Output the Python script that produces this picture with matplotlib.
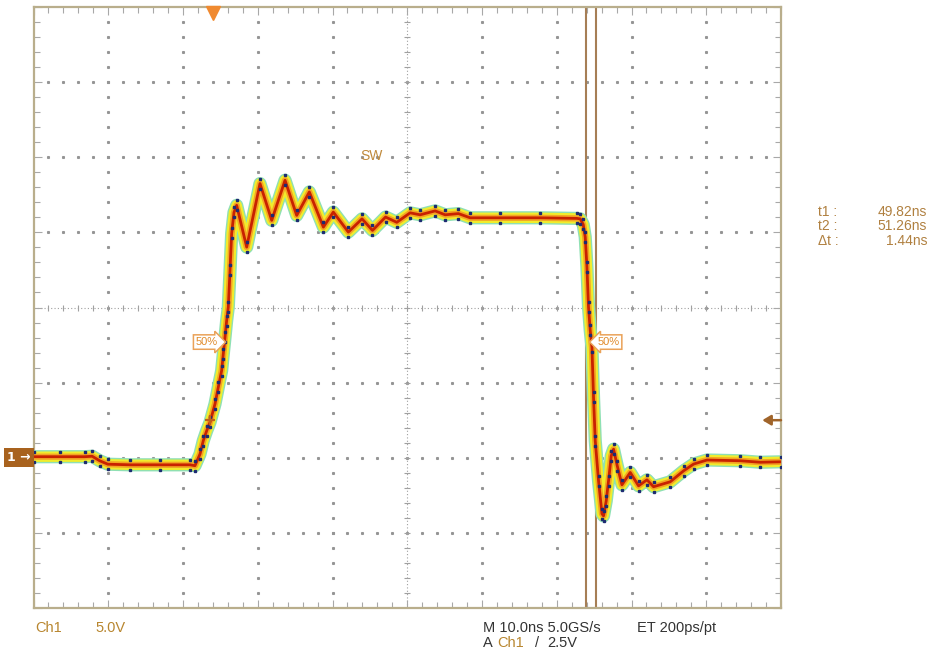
import matplotlib.pyplot as plt
import matplotlib.transforms as mtransforms
import numpy as np

# switch-node waveform: time in ns (0 = trigger), volts
t_ns = [-24.0, -20.5, -17.2, -16.2, -15.2, -14.1, -11.1, -7.1, -3.1, -2.45,
        -1.78, -1.34, -0.88, -0.44, 0.23, 0.67, 1.12, 1.34, 1.57, 1.79,
        2.01, 2.24, 2.46, 2.77, 3.13, 4.47, 6.25, 7.82, 9.6, 11.16,
        12.85, 14.73, 16.06, 18.07, 19.9, 21.3, 23.05, 24.55, 26.33, 27.67,
        29.68, 31.02, 32.8, 34.36, 38.38, 43.73, 48.65, 49.09, 49.49, 49.76,
        49.99, 50.2, 50.43, 50.66, 50.87, 51.1, 51.54, 52.0, 52.21, 52.57,
        52.88, 53.24, 53.55, 54.04, 54.67, 55.78, 56.89, 58.02, 58.9, 61.13,
        62.92, 64.26, 66.05, 70.5, 73.18, 75.99]
v_sw = [0.07, 0.07, 0.07, 0.1, -0.2, -0.43, -0.47, -0.47, -0.47, -0.53,
        0.24, 1.13, 1.8, 2.36, 3.58, 4.69, 5.8, 6.91, 8.02, 9.13,
        10.02, 12.47, 14.93, 16.33, 16.8, 14.02, 18.25, 15.8, 18.47, 16.13,
        17.69, 15.35, 16.35, 15.02, 15.9, 15.13, 16.02, 15.67, 16.3, 16.17,
        16.43, 16.17, 16.25, 15.97, 15.97, 15.97, 15.93, 15.9, 15.53, 14.69,
        12.69, 10.02, 8.47, 7.35, 4.02, 1.13, -1.53, -3.73, -3.87, -2.87,
        -1.53, 0.13, 0.57, -0.53, -1.8, -0.98, -1.87, -1.47, -1.93, -1.6,
        -0.87, -0.42, -0.15, -0.2, -0.3, -0.27]

t1, t2 = 49.82, 51.26
trig_level = 2.5
meas_names = ["t1 :", "t2 :", "\u0394t :"]
meas_values = ["49.82ns", "51.26ns", "1.44ns"]

x0, x1 = -24.05, 75.95   # 10 ns/div, 10 divisions
y0, y1 = -10, 30         # 5 V/div, 8 divisions

plt.rcParams['font.family'] = ['Liberation Sans', 'DejaVu Sans']

W, H = 930, 651
fig = plt.figure(figsize=(W / 100, H / 100), dpi=100)
ax = fig.add_axes([33.5 / W, 1 - 608 / H, 747.5 / W, 601 / H])
ax.set_xlim(x0, x1)
ax.set_ylim(y0, y1)

# frame and edge ticks
for s in ax.spines.values():
    s.set_color('#b9ae8c')
    s.set_linewidth(1.6)
ax.set_xticks(x0 + 10 * np.arange(11))
ax.set_yticks(np.arange(y0, y1 + 1, 5))
ax.set_xticks(x0 + 2 * np.arange(51), minor=True)
ax.set_yticks(np.arange(y0, y1 + 1, 1), minor=True)
ax.tick_params(which='both', direction='in', top=True, right=True,
               labelbottom=False, labelleft=False, color='#a8a8a8', width=0.8)
ax.tick_params(which='major', length=6)
ax.tick_params(which='minor', length=4)

# dotted graticule
grid_c = '#959595'
for k in range(1, 10):
    if k == 5:
        continue
    xs = x0 + 10 * k
    yy = np.arange(y0 + 1, y1, 1)
    ax.plot(np.full(len(yy), xs), yy, ls='none', marker='s', ms=1.2, color=grid_c, zorder=1)
for k in range(1, 8):
    if k == 4:
        continue
    ys = y0 + 5 * k
    xx = x0 + 2 * np.arange(1, 50)
    ax.plot(xx, np.full(len(xx), ys), ls='none', marker='s', ms=1.2, color=grid_c, zorder=1)

# centre lines with ticks
xc, yc = x0 + 50, 10
ax.axhline(yc, ls=(0, (1, 2)), lw=0.8, color='#a0a0a0', zorder=1)
ax.axvline(xc, ls=(0, (1, 2)), lw=0.8, color='#a0a0a0', zorder=1)
xx = x0 + 2 * np.arange(1, 50)
ax.plot(xx, np.full(len(xx), yc), ls='none', marker='|', ms=5, mew=0.8, color='#a0a0a0', zorder=1)
yy = np.arange(y0 + 1, y1, 1)
ax.plot(np.full(len(yy), xc), yy, ls='none', marker='_', ms=5, mew=0.8, color='#a0a0a0', zorder=1)

# cursors
for tc in (t1, t2):
    ax.axvline(tc, color='#a67e55', lw=1.5, zorder=2)

# persistence-style trace
kw = dict(solid_capstyle='round', solid_joinstyle='round')
ax.plot(t_ns, v_sw, color='#8fe0b4', lw=9.5, zorder=3, **kw)
ax.plot(t_ns, v_sw, color='#f1ec2c', lw=7.5, zorder=3, **kw)
ax.plot(t_ns, v_sw, color='#f4a424', lw=4.5, zorder=3, **kw)
ax.plot(t_ns, v_sw, color='#c82200', lw=2, zorder=3, **kw)
for dy in (5, -5):
    off = ax.transData + mtransforms.ScaledTranslation(0, dy / 100, fig.dpi_scale_trans)
    ax.plot(t_ns, v_sw, ls='none', marker='s', ms=2, color='#1d2b72', transform=off, zorder=3)

# trigger point mark
ax.plot(-0.44, trig_level, marker='+', ms=7, mew=1.6, color='#c0601a', zorder=4)

# trigger position marker (top)
off = ax.transData + mtransforms.ScaledTranslation(0, -6 / 100, fig.dpi_scale_trans)
ax.plot([0], [y1], marker='v', ms=10, color='#f08a30', mec='#f08a30', transform=off,
        clip_on=False, zorder=6)

blend = mtransforms.blended_transform_factory(ax.transAxes, ax.transData)

# ground marker (left) and trigger level arrow (right)
ax.text(-0.004, 0, '1 \u2192', transform=blend, ha='right', va='center', color='white',
        fontsize=9, fontweight='bold', family='DejaVu Sans',
        bbox=dict(boxstyle='square,pad=0.25', fc='#a8621e', ec='none'), zorder=6)
ax.annotate('', xy=(0.975, trig_level), xycoords=blend, xytext=(1.0, trig_level),
            textcoords=blend,
            arrowprops=dict(arrowstyle='-|>,head_length=0.5,head_width=0.3',
                            color='#a0642a', lw=1.8, shrinkA=0, shrinkB=0))

# 50% tags
tag_box = dict(fc='white', ec='#eaa258', lw=1.1)
ax.text(0.6, 7.7, '50%', ha='right', va='center', fontsize=8, color='#e08a2a', zorder=6,
        bbox=dict(boxstyle='rarrow,pad=0.2', **tag_box))
ax.text(51.4, 7.7, '50%', ha='left', va='center', fontsize=8, color='#e08a2a', zorder=6,
        bbox=dict(boxstyle='larrow,pad=0.2', **tag_box))

ax.text(21.2, 20.1, 'SW', ha='center', va='center', fontsize=10, color='#c08a3c')

# cursor readout
for i, (n, v) in enumerate(zip(meas_names, meas_values)):
    yp = 1 - (212 + 14.5 * i) / H
    fig.text(818 / W, yp, n, ha='left', va='center', fontsize=10, color='#b08040')
    fig.text(927 / W, yp, v, ha='right', va='center', fontsize=10, color='#b08040')

# bottom status lines
r1, r2 = 1 - 628 / H, 1 - 643 / H
fig.text(35 / W, r1, 'Ch1', ha='left', va='center', fontsize=10.5, color='#b8862f')
fig.text(95 / W, r1, '5.0V', ha='left', va='center', fontsize=10.5, color='#b8862f')
fig.text(483 / W, r1, 'M 10.0ns 5.0GS/s', ha='left', va='center', fontsize=10.5, color='#333333')
fig.text(637 / W, r1, 'ET 200ps/pt', ha='left', va='center', fontsize=10.5, color='#333333')
fig.text(483 / W, r2, 'A', ha='left', va='center', fontsize=10.5, color='#333333')
fig.text(497 / W, r2, 'Ch1', ha='left', va='center', fontsize=10.5, color='#b8862f')
fig.text(535 / W, r2, '/', ha='left', va='center', fontsize=10.5, color='#333333')
fig.text(547 / W, r2, '2.5V', ha='left', va='center', fontsize=10.5, color='#333333')

plt.savefig('out.png', dpi=100)
